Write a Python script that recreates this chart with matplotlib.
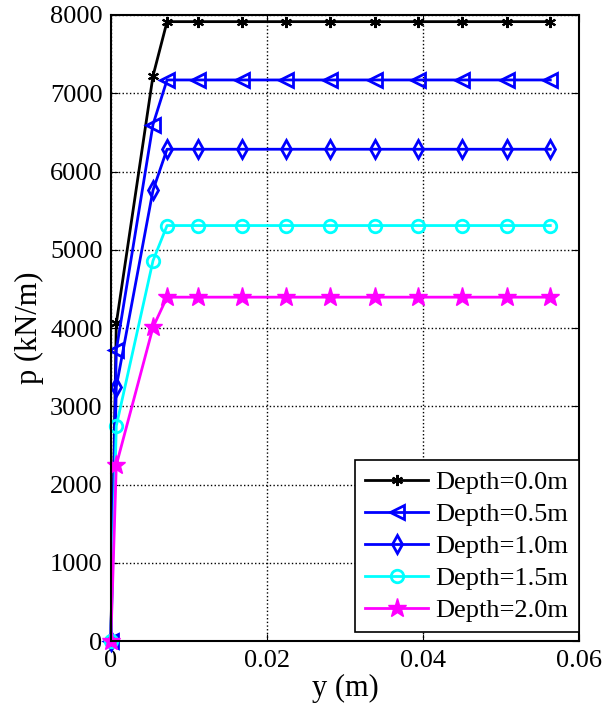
import matplotlib
matplotlib.use('Agg')
import matplotlib.pyplot as plt
import numpy as np

plt.rcParams['font.family'] = ['Liberation Serif', 'DejaVu Serif']
plt.rcParams['mathtext.fontset'] = 'stix'

# displacement y (m)
y = [0, 0.0007, 0.0054, 0.0072, 0.0112, 0.0168, 0.0225, 0.0281,
     0.0338, 0.0394, 0.0450, 0.0507, 0.0563]

# p (kN/m) for each depth
p_00 = [0, 4060, 7220, 7915, 7915, 7915, 7915, 7915, 7915, 7915, 7915, 7915, 7915]
p_05 = [0, 3720, 6600, 7170, 7170, 7170, 7170, 7170, 7170, 7170, 7170, 7170, 7170]
p_10 = [0, 3250, 5760, 6285, 6285, 6285, 6285, 6285, 6285, 6285, 6285, 6285, 6285]
p_15 = [0, 2750, 4860, 5310, 5310, 5310, 5310, 5310, 5310, 5310, 5310, 5310, 5310]
p_20 = [0, 2250, 4010, 4395, 4395, 4395, 4395, 4395, 4395, 4395, 4395, 4395, 4395]

labels = ['Depth=0.0m', 'Depth=0.5m', 'Depth=1.0m', 'Depth=1.5m', 'Depth=2.0m']

fig = plt.figure(figsize=(6.09, 7.14), dpi=100)
ax = fig.add_axes([0.182, 0.102, 0.769, 0.877])

asterisk = (6, 2, 0)
ax.plot(y, p_00, color='black', lw=2, marker=asterisk, ms=8, mew=1.5, label=labels[0], clip_on=False)
ax.plot(y, p_05, color='#0000ff', lw=2, marker='<', ms=10, mfc='none', mew=2, label=labels[1], clip_on=False)
ax.plot(y, p_10, color='#0000ff', lw=2, marker='d', ms=9, mfc='none', mew=2, label=labels[2], clip_on=False)
ax.plot(y, p_15, color='cyan', lw=2, marker='o', ms=9, mfc='none', mew=2, label=labels[3], clip_on=False)
ax.plot(y, p_20, color='magenta', lw=2, marker='*', ms=14, mew=1, label=labels[4], clip_on=False)

ax.set_xlim(0, 0.06)
ax.set_ylim(0, 8000)
ax.set_xticks([0, 0.02, 0.04, 0.06])
ax.set_xticklabels(['0', '0.02', '0.04', '0.06'])
ax.set_yticks(np.arange(0, 8001, 1000))
ax.grid(True, color='black', linestyle=':', linewidth=1)
ax.tick_params(direction='in', top=True, right=True, labelsize=19, length=5)
ax.tick_params(axis='y', pad=6)
ax.tick_params(axis='x', pad=6)
for s in ax.spines.values():
    s.set_linewidth(1.5)

ax.set_xlabel('y (m)', fontsize=22, labelpad=2)
ax.set_ylabel('p (kN/m)', fontsize=22, labelpad=4)

leg = ax.legend(loc='lower right', bbox_to_anchor=(1.0, 0.014), fontsize=19, frameon=True,
                fancybox=False, edgecolor='black', framealpha=1, borderaxespad=0.0,
                handlelength=2.4, handletextpad=0.27, labelspacing=0.32, borderpad=0.4)
leg.get_frame().set_linewidth(1.2)
leg.set_zorder(5)

fig.savefig('out.png', dpi=100)
